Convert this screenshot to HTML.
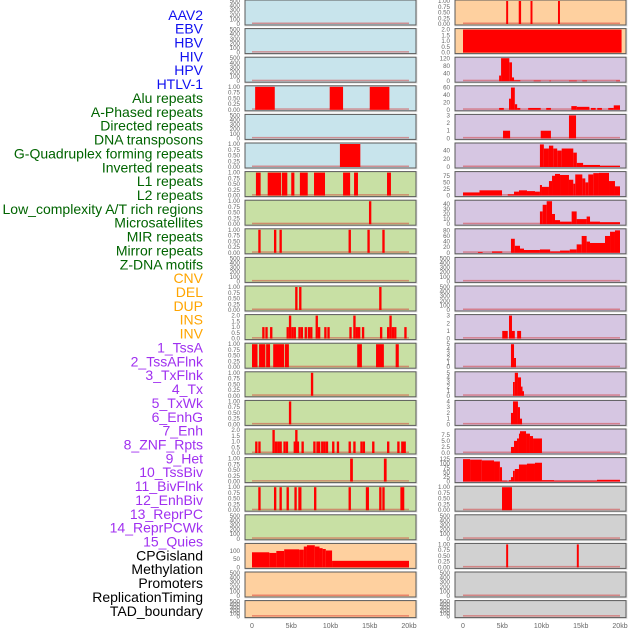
<!DOCTYPE html>
<html><head><meta charset="utf-8"><style>
html,body{margin:0;padding:0;background:#fff;}
svg{display:block;font-family:"Liberation Sans",sans-serif;}
</style></head><body>
<svg id="chart" width="630" height="630" viewBox="0 0 630 630" xmlns="http://www.w3.org/2000/svg"></svg>
<script>
// ---------- data ----------
const rowLabels = ["AAV2","EBV","HBV","HIV","HPV","HTLV-1","Alu repeats","A-Phased repeats","Directed repeats","DNA transposons","G-Quadruplex forming repeats","Inverted repeats","L1 repeats","L2 repeats","Low_complexity A/T rich regions","Microsatellites","MIR repeats","Mirror repeats","Z-DNA motifs","CNV","DEL","DUP","INS","INV","1_TssA","2_TssAFlnk","3_TxFlnk","4_Tx","5_TxWk","6_EnhG","7_Enh","8_ZNF_Rpts","9_Het","10_TssBiv","11_BivFlnk","12_EnhBiv","13_ReprPC","14_ReprPCWk","15_Quies","CPGisland","Methylation","Promoters","ReplicationTiming","TAD_boundary"];
const xTickValues = [0,5,10,15,20];
const xTickLabels = ["0","5kb","10kb","15kb","20kb"];
const T500 = [0,100,200,300,400,500];
const T1 = [0,0.25,0.5,0.75,1];
const T2 = [0,0.5,1,1.5,2];

// left column segments [startKb, endKb, value]
const L_alu = [[0.4,2.9,1],[9.9,11.6,1],[15.0,17.5,1]];
const L_gquad = [[11.2,13.8,1]];
const L_inv = [[0.5,1.1,1],[2.0,3.7,1],[3.8,4.5,1],[5.0,5.4,1],[6.1,7.1,1],[7.9,9.3,1],[11.6,12.5,1],[13.0,13.5,1],[17.2,17.7,1]];
const L_l2 = [[14.9,15.2,1]];
const L_mir = [[0.8,1.1,1],[2.8,3.1,1],[3.5,3.8,1],[12.3,12.6,1],[14.7,15.0,1],[16.6,16.9,1]];
const L_del = [[5.5,5.8,1],[6.0,6.3,1],[16.2,16.5,1]];
const L_ins = [[1.3,1.6,1],[1.7,2.0,1],[2.3,2.6,1],[4.4,4.7,1],[4.7,5.0,2],[5.0,5.3,1],[5.3,5.6,1],[5.9,6.2,1],[6.2,6.5,1],[6.7,7.0,1],[7.1,7.4,1],[7.4,7.7,1],[8.1,8.4,2],[8.4,8.7,1],[9.2,9.5,1],[9.6,9.9,1],[12.4,12.7,1],[12.9,13.2,2],[13.2,13.5,1],[13.5,13.8,1],[14.0,14.3,1],[16.3,16.6,1],[17.2,17.5,1],[17.5,17.8,2],[17.8,18.1,1],[18.1,18.4,1],[19.4,19.7,1]];
const L_tssa = [[0,0.7,1],[0.9,1.7,1],[1.8,2.3,1],[2.7,4.1,1],[4.2,4.7,1],[13.4,14.0,1],[15.8,16.8,1],[18.3,18.7,1]];
const L_txflnk = [[7.5,7.8,1]];
const L_tx = [[4.7,5.0,1]];
const L_enh = [[0.4,0.7,1],[0.8,1.1,1],[2.6,2.9,2],[2.9,3.2,1],[3.2,3.5,1],[3.5,3.8,1],[4.0,4.3,1],[4.3,4.6,1],[5.3,5.6,1],[5.5,5.8,2],[5.7,6.0,1],[6.3,6.6,1],[7.8,8.1,1],[8.2,8.5,1],[8.4,8.7,1],[8.8,9.1,1],[9.1,9.4,1],[9.4,9.7,1],[10.2,10.5,1],[10.8,11.1,1],[12.3,12.6,1],[12.9,13.2,1],[13.8,14.1,1],[14.1,14.4,1],[15.3,15.6,1],[17.2,17.5,1],[18.5,18.8,1],[19.0,19.3,1],[19.3,19.6,1]];
const L_het = [[12.5,12.85,1],[16.8,17.15,1]];
const L_biv = [[0.8,1.1,1],[2.8,3.1,1],[3.5,3.8,1],[4.4,4.7,1],[5.4,5.7,1],[5.9,6.3,1],[7.9,8.2,1],[12.3,12.6,1],[14.5,14.9,1],[16.2,16.5,1],[16.6,16.9,1],[18.9,19.4,1]];
const L_cpg = [[0,2.2,92],[2.2,3.1,88],[3.1,4.1,100],[4.1,6.0,110],[6.0,6.6,108],[6.6,7.0,127],[7.0,8.0,135],[8.0,8.6,127],[8.6,9.0,117],[9.0,9.4,112],[9.4,10.2,103],[10.2,20,40]];

// right column segments
const R_aav2 = [[5.5,5.75,1],[7.1,7.4,1],[8.6,8.85,1],[12.1,12.35,1]];
const R_ebv = [[0,20.2,2]];
const R_hiv = [[4.6,4.85,30],[4.85,5.9,122],[5.9,6.24,100],[6.24,6.5,20],[6.5,7.3,5],[9.0,9.9,3],[11.0,11.2,3],[13.5,14.5,3],[15.2,15.8,3],[19.5,20,3]];
const R_hpv = [[4.6,5.2,5],[5.86,6.11,30],[6.11,6.6,60],[6.6,6.9,15],[6.9,7.3,5],[8.3,9.9,5],[10.6,11.2,5],[13.8,14.5,10],[14.5,16.1,8],[16.3,16.9,5],[17.1,17.7,5],[18.5,19.2,5],[19.2,20,12]];
const R_htlv = [[5.1,6.0,1],[9.9,11.2,1],[13.5,14.4,3]];
const R_alu = [[9.8,10.3,55],[10.3,10.95,45],[10.95,11.5,52],[11.5,12.0,45],[12.0,12.57,40],[12.57,14.05,45],[14.05,14.5,35],[14.5,15.3,10],[15.3,17.45,5],[17.45,20,3]];
const R_aph = [[0,2.1,12],[2.1,4.97,20],[5.7,6.5,5],[6.5,7.13,15],[7.13,8.15,20],[8.15,9.17,17],[9.17,9.8,15],[9.8,10.06,40],[10.06,10.95,33],[10.95,11.34,55],[11.34,11.72,75],[11.72,12.36,82],[12.36,13.5,78],[13.5,14.05,60],[14.05,14.3,45],[14.3,15.2,80],[15.2,15.58,65],[15.58,15.96,50],[15.96,16.6,80],[16.6,17.32,85],[17.32,18.6,86],[18.6,19.36,55],[19.36,20,35]];
const R_dir = [[9.8,10.15,25],[10.15,10.66,38],[10.66,11.34,45],[11.34,11.72,20],[11.72,12.36,8],[12.36,13.84,5],[13.84,14.48,25],[14.48,15.75,10],[15.75,16.18,15],[16.18,17.45,5],[17.45,20,4]];
const R_dna = [[1.9,2.5,3],[3.7,5.0,5],[6.11,6.6,50],[6.6,7.26,25],[7.26,7.77,15],[7.77,9.8,10],[9.8,11.1,12],[11.1,12.36,5],[12.36,13.6,8],[13.6,14.48,12],[14.48,15.12,30],[15.12,15.75,60],[15.75,16.18,40],[16.18,18.09,35],[18.09,18.73,60],[18.73,19.36,75],[19.36,20,80]];
const R_ins = [[5.0,5.7,1],[5.86,6.24,3],[6.24,6.6,1],[6.9,7.4,1]];
const R_tssa = [[6.11,6.5,5],[6.5,6.75,2]];
const R_flnk = [[6.37,6.6,3],[6.6,7.0,5],[7.0,7.39,4],[7.39,7.52,2],[7.52,7.77,1]];
const R_txflnk = [[6.11,6.37,2],[6.37,7.0,4],[7.0,7.26,3],[7.26,7.52,1]];
const R_tx = [[6.11,6.5,2.5],[6.5,6.88,5],[6.88,7.13,6],[7.13,7.26,8],[7.26,8.03,9],[8.03,8.53,8],[8.53,8.92,7],[8.92,10.06,6]];
const R_txwk = [[0,0.9,125],[0.9,2.4,122],[2.4,3.95,118],[3.95,4.7,112],[4.7,4.97,80],[4.97,5.6,5],[5.6,5.86,2],[5.86,6.11,8],[6.11,6.37,25],[6.37,6.6,60],[6.6,7.13,70],[7.13,8.15,95],[8.15,9.17,100],[9.17,10.06,105],[10.06,11.6,8],[11.6,17.07,5],[17.07,20,10]];
const R_enhg = [[4.97,6.24,1]];
const R_cpg = [[5.5,5.75,1],[14.5,14.75,1]];

// ---------- layout ----------
const BG = {blue:"#c8e4ec", green:"#c8e0a4", peach:"#fed09f", purple:"#d6c6e2", gray:"#d1d1d1"};
const leftPanels = [
 ["blue",T500,500,[]],["blue",T500,500,[]],["blue",T500,500,[]],["blue",T1,1,L_alu],["blue",T500,500,[]],["blue",T1,1,L_gquad],
 ["green",T1,1,L_inv],["green",T1,1,L_l2],["green",T1,1,L_mir],["green",T500,500,[]],["green",T1,1,L_del],["green",T2,2,L_ins],
 ["green",T1,1,L_tssa],["green",T1,1,L_txflnk],["green",T1,1,L_tx],["green",T2,2,L_enh],["green",T1,1,L_het],["green",T1,1,L_biv],
 ["green",T500,500,[]],["peach",[0,50,100],140,L_cpg],["peach",T500,500,[]],["peach",T500,500,[]]];
const rightPanels = [
 ["peach",T1,1,R_aav2],["peach",T2,2,R_ebv],["purple",[0,40,80,120],122,R_hiv],["purple",[0,20,40,60],62,R_hpv],["purple",[0,1,2,3],3,R_htlv],
 ["purple",[0,20,40],56,R_alu],["purple",[0,25,50,75],87,R_aph],["purple",[0,10,20,30,40],45,R_dir],["purple",[0,20,40,60,80],82,R_dna],
 ["purple",T500,500,[]],["purple",T500,500,[]],["purple",[0,1,2,3],3,R_ins],["purple",[0,1,2,3,4,5],5,R_tssa],["purple",[0,1,2,3,4,5],5,R_flnk],
 ["purple",[0,1,2,3,4],4,R_txflnk],["purple",[0,2.5,5,7.5],9.5,R_tx],["purple",[0,25,50,75,100,125],128,R_txwk],["gray",T1,1,R_enhg],
 ["gray",T500,500,[]],["gray",T1,1,R_cpg],["gray",T500,500,[]],["gray",T500,500,[]]];

const NS = "http://www.w3.org/2000/svg";
const svg = document.getElementById("chart");
function mk(tag, attrs, parent){ const e=document.createElementNS(NS,tag); for(const k in attrs) e.setAttribute(k,attrs[k]); (parent||svg).appendChild(e); return e; }
const PX_PER_KB = 7.85;
function xScale(col, kb){ return (col===0?252:463) + kb*PX_PER_KB; }
function fmt(v, ticks){ const dec = ticks.some(t=>t%1!==0) ? (ticks.some(t=>(t*10)%1!==0)?2:1) : 0; return v.toFixed(dec); }

// row labels
const colorFor = i => i<6?"#1010f0":(i<19?"#006400":(i<24?"#ffa500":(i<39?"#a030f0":"#000")));
rowLabels.forEach((lab,i)=>{
  const t = mk("text",{x:203,y:15+i*(596/43)+4.8,"text-anchor":"end","font-size":"14",fill:colorFor(i)});
  
  
  t.textContent = lab;
});

function drawPanel(col, row, spec){
  const [bg,ticks,ymax,segs] = spec;
  const left = col===0?245:455, w = 171;
  const top = row*28.6, h = row===21?17:25;
  const g = mk("g",{});
  
  
  mk("rect",{x:left-0.5,y:top-0.5,width:w+2,height:h+2,fill:"#e4e4e4"},g);
  const r = mk("rect",{x:left,y:top,width:w,height:h,fill:BG[bg],stroke:"#5a5a5a","stroke-width":1},g);
  
  
  const y0 = top+h-1, yh = h-2;
  const yScale = v => y0 - v/ymax*yh;
  mk("rect",{x:xScale(col,0),y:y0-1.5,width:xScale(col,20)-xScale(col,0),height:1.5,fill:"rgba(210,40,40,0.45)"},g);
  segs.forEach(s=>{
    const b = mk("rect",{x:xScale(col,s[0]),y:yScale(s[2]),width:Math.max(1.5,xScale(col,s[1])-xScale(col,s[0])),height:y0-yScale(s[2]),fill:"#ff0000"},g);
    
    
  });
  ticks.forEach(tv=>{
    const t = mk("text",{x:left-5,y:yScale(tv)+2,"text-anchor":"end","font-size":"6.2",fill:"#666"},g);
    
    
    t.textContent = fmt(tv,ticks);
  });
}
leftPanels.forEach((s,i)=>drawPanel(0,i,s));
rightPanels.forEach((s,i)=>drawPanel(1,i,s));

// x axes
[0,1].forEach(col=>{
  xTickValues.forEach((v,i)=>{
    const t = mk("text",{x:xScale(col,v),y:628,"text-anchor":"middle","font-size":"7",fill:"#666"});
    
    
    t.textContent = xTickLabels[i];
  });
});
</script>
</body></html>
